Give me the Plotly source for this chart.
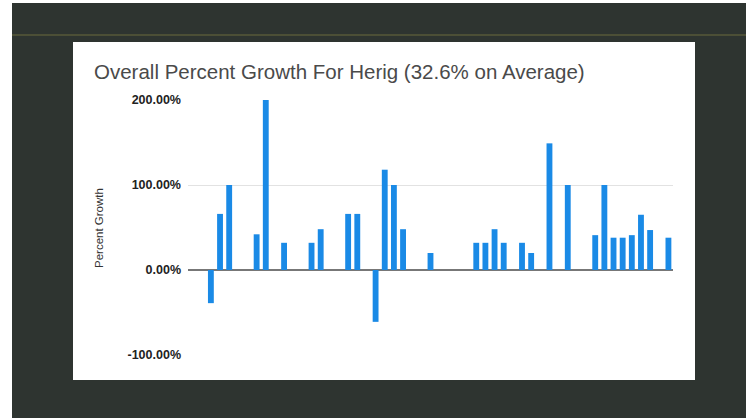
import plotly.graph_objects as go

# Category slots (53 periods) and percent growth values
periods = list(range(53))
growth = [0, 0,
          -39, 66, 100, 0, 0, 42, 200, 0, 32, 0, 0, 32, 48, 0, 0, 66, 66, 0,
          -61, 118, 100, 48, 0, 0, 20, 0, 0, 0, 0, 32, 32, 48, 32, 0, 32, 20,
          0, 149, 0, 100, 0, 0, 41, 100, 38, 38, 41, 65, 47, 0, 38]
y_ticks = [-100, 0, 100, 200]
y_tick_labels = ["-100.00%", "0.00%", "100.00%", "200.00%"]
title_text = "Overall Percent Growth For Herig (32.6% on Average)"
y_title = "Percent Growth"

# Plot-area pixel geometry
W, H = 752, 419
L, R, T, B = 188, 673, 100, 355
pw, ph = R - L, B - T

def px(x):
    return (x - L) / pw

def py(y):
    return (B - y) / ph

fig = go.Figure()
fig.add_trace(go.Bar(x=periods, y=growth, marker_color="#1a8ae6",
                     marker_line_width=0, hoverinfo="skip"))

shapes = [
    dict(type="rect", xref="paper", yref="paper", x0=px(12), x1=px(746),
         y0=py(418), y1=py(3), fillcolor="#2e3430", line_width=0, layer="below"),
    dict(type="line", xref="paper", yref="paper", x0=px(12), x1=px(746),
         y0=py(35), y1=py(35), line=dict(color="#6b6a3c", width=1), layer="below"),
    dict(type="rect", xref="paper", yref="paper", x0=px(73), x1=px(695),
         y0=py(380), y1=py(42), fillcolor="#ffffff", line_width=0, layer="below"),
]

annotations = [
    dict(text=title_text, xref="paper", yref="paper", x=px(92), y=py(72),
         xanchor="left", yanchor="middle", showarrow=False,
         font=dict(family="Liberation Sans, Arial", size=20.5, color="#4a4a4a")),
    dict(text=y_title, xref="paper", yref="paper", x=px(99), y=py(228),
         xanchor="center", yanchor="middle", showarrow=False, textangle=-90,
         font=dict(family="Liberation Sans, Arial", size=11.5, color="#333333")),
]

fig.update_layout(
    width=W, height=H,
    margin=dict(l=L, r=W - R, t=T, b=H - B, pad=0),
    paper_bgcolor="#ffffff", plot_bgcolor="rgba(0,0,0,0)",
    showlegend=False, bargap=0.36,
    shapes=shapes, annotations=annotations,
    xaxis=dict(range=[-0.5, 52.5], showticklabels=False, showgrid=False,
               zeroline=False, showline=False, fixedrange=True),
    yaxis=dict(range=[-100, 200], tickvals=y_ticks, ticktext=y_tick_labels,
               showgrid=True, gridcolor="#e2e2e2", gridwidth=1,
               zeroline=True, zerolinecolor="#777777", zerolinewidth=1.5,
               ticklabelstandoff=6,
               tickfont=dict(family="Liberation Sans, Arial", size=12.5,
                             color="#222222", weight="bold"),
               fixedrange=True),
)

fig.write_html("out.html", config={"displayModeBar": False},
               post_script="document.body.style.margin='0px';"
                           "document.body.style.overflow='hidden';")
